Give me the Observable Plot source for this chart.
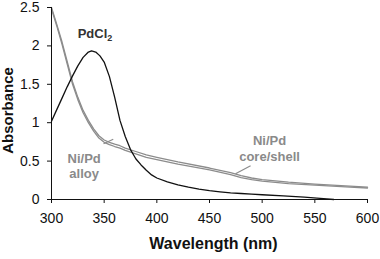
<!DOCTYPE html>
<html>
<head>
<meta charset="utf-8">
<script src="https://cdn.jsdelivr.net/npm/d3@7"></script>
<script src="https://cdn.jsdelivr.net/npm/@observablehq/plot@0.6"></script>
<style>
  html, body { margin: 0; padding: 0; background: #fff; }
</style>
</head>
<body>
<div id="chart"></div>
<script>
// PdCl2 spectrum
const pdWl  = [300, 305, 310, 315, 320, 325, 330, 335, 338, 342, 346, 350, 355, 360, 365, 370, 375, 380, 385, 390, 395, 400, 410, 420, 430, 440, 450, 460, 470, 480, 490, 500, 520, 540, 555, 568];
const pdAbs = [1.02, 1.17, 1.32, 1.47, 1.61, 1.74, 1.85, 1.92, 1.935, 1.92, 1.87, 1.79, 1.6, 1.33, 1.03, 0.82, 0.65, 0.53, 0.45, 0.38, 0.32, 0.28, 0.23, 0.19, 0.16, 0.135, 0.115, 0.1, 0.085, 0.078, 0.07, 0.062, 0.048, 0.032, 0.015, 0.0];
// Ni/Pd core/shell spectrum
const csWl  = [300, 305, 310, 315, 320, 325, 330, 335, 340, 345, 350, 355, 360, 365, 370, 380, 390, 400, 420, 450, 470, 480, 490, 500, 525, 550, 575, 600];
const csAbs = [2.5, 2.28, 2.05, 1.79, 1.53, 1.33, 1.16, 1.03, 0.92, 0.83, 0.775, 0.745, 0.72, 0.7, 0.67, 0.625, 0.58, 0.55, 0.49, 0.41, 0.35, 0.31, 0.28, 0.26, 0.225, 0.2, 0.18, 0.16];
// Ni/Pd alloy spectrum
const alWl  = [300, 305, 310, 315, 320, 325, 330, 335, 340, 345, 350, 355, 360, 365, 370, 380, 390, 400, 420, 450, 470, 480, 490, 500, 525, 550, 575, 600];
const alAbs = [2.48, 2.26, 2.02, 1.76, 1.5, 1.3, 1.13, 1.0, 0.89, 0.8, 0.745, 0.715, 0.69, 0.67, 0.64, 0.595, 0.55, 0.52, 0.46, 0.385, 0.325, 0.285, 0.258, 0.24, 0.208, 0.187, 0.168, 0.15];

const xTicks = [300, 350, 400, 450, 500, 550, 600];
const yTicks = [0, 0.5, 1, 1.5, 2, 2.5];

const labels = [
  {text: "Ni/Pd\nalloy", x: 331, y: 0.44, color: "#8a8a8a"},
  {text: "Ni/Pd\ncore/shell", x: 507, y: 0.67, color: "#8a8a8a"}
];
const pdLabel = [{text: "PdCl", sub: "2", x: 353, y: 2.16}];
const leaders = [
  {x1: 349.4, y1: 0.725, x2: 358.6, y2: 0.785},
  {x1: 474.7, y1: 0.335, x2: 489, y2: 0.44}
];

const toRows = (wl, ab) => wl.map((w, i) => ({w, a: ab[i]}));

const chart = Plot.plot({
  width: 380,
  height: 259,
  marginLeft: 51,
  marginRight: 13,
  marginTop: 7,
  marginBottom: 60,
  style: {fontFamily: "'Liberation Sans', Arial, sans-serif", fontSize: "14px", color: "#111", background: "#fff"},
  x: {domain: [300, 600]},
  y: {domain: [0, 2.5]},
  marks: [
    Plot.line(toRows(csWl, csAbs), {x: "w", y: "a", stroke: "#8c8c8c", strokeWidth: 1.3}),
    Plot.line(toRows(alWl, alAbs), {x: "w", y: "a", stroke: "#8c8c8c", strokeWidth: 1.3}),
    Plot.line(toRows(pdWl, pdAbs), {x: "w", y: "a", stroke: "#111", strokeWidth: 1.3}),
    Plot.link(leaders, {x1: "x1", y1: "y1", x2: "x2", y2: "y2", stroke: "#8c8c8c", strokeWidth: 1.2}),
    Plot.text(labels, {x: "x", y: "y", text: "text", fill: "color", fontWeight: "bold", fontSize: 13, lineHeight: 1.2}),
    Plot.text(pdLabel, {x: "x", y: "y", text: "text", fill: "#333", fontWeight: "bold", fontSize: 13, textAnchor: "end"}),
    Plot.text(pdLabel, {x: "x", y: "y", text: "sub", fill: "#333", fontWeight: "bold", fontSize: 9, textAnchor: "start", dy: 4}),
    Plot.ruleY([0], {stroke: "#111", strokeWidth: 1}),
    Plot.ruleX([300], {stroke: "#111", strokeWidth: 1}),
    Plot.axisX({ticks: xTicks, tickSize: 4, tickPadding: 10, fontSize: 14, label: null, stroke: "#111"}),
    Plot.axisY({ticks: yTicks, tickSize: 4, tickPadding: 8, fontSize: 14, label: null, tickFormat: d => String(d), stroke: "#111"}),
    Plot.text(["Wavelength (nm)"], {frameAnchor: "bottom", dx: 4, dy: 49, fontWeight: "bold", fontSize: 16, fill: "#111"}),
    Plot.text(["Absorbance"], {frameAnchor: "left", textAnchor: "middle", dx: -43, dy: 7, rotate: -90, fontWeight: "bold", fontSize: 15, fill: "#111"})
  ]
});
document.getElementById("chart").appendChild(chart);
</script>
</body>
</html>
